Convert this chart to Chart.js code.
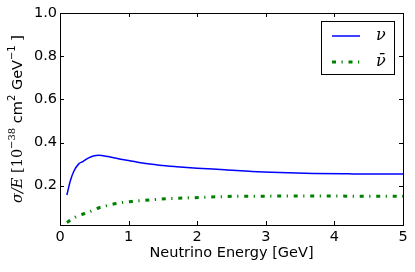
<!DOCTYPE html>
<html>
<head>
<meta charset="utf-8">
<script src="https://cdn.jsdelivr.net/npm/chart.js@4/dist/chart.umd.min.js"></script>
<style>
  html, body { margin: 0; padding: 0; background: #fff; }
  canvas { display: block; }
</style>
</head>
<body>
<canvas id="xsec" width="415" height="272"></canvas>
<script>
// neutrino cross section per energy

// ---- data ----
const nuEnergy = [0.1, 0.15, 0.2, 0.27, 0.34, 0.41, 0.5, 0.56, 0.7, 0.85, 1.0, 1.2, 1.45, 1.7, 2.0, 2.4, 2.8, 3.2, 3.7, 4.2, 4.6, 5.0];
const nuXsec = [0.157, 0.222, 0.266, 0.300, 0.313, 0.328, 0.339, 0.341, 0.335, 0.325, 0.317, 0.305, 0.295, 0.288, 0.281, 0.274, 0.266, 0.261, 0.257, 0.255, 0.254, 0.254];

const nubarEnergy = [0.1, 0.23, 0.34, 0.46, 0.57, 0.7, 0.82, 1.07, 1.31, 1.55, 1.81, 2.07, 2.32, 2.57, 2.82, 3.2, 3.6, 4.0, 4.5, 5.0];
const nubarXsec = [0.030, 0.056, 0.069, 0.083, 0.098, 0.109, 0.118, 0.128, 0.134, 0.140, 0.143, 0.146, 0.149, 0.151, 0.151, 0.152, 0.152, 0.152, 0.151, 0.151];

const xTicks = [0, 1, 2, 3, 4, 5];
const yTicks = [0.2, 0.4, 0.6, 0.8, 1.0];
const seriesLabels = ['ν', 'ν̄'];

const BLUE = '#0000ff';
const GREEN = '#008000';
const DASHDOT = [4, 5.5, 1.2, 5.8];
const FONT = 'DejaVu Sans';
const FSIZE = 14.5;

function toPoints(xs, ys) {
  return xs.map((x, i) => ({ x: x, y: ys[i] }));
}

// ---- plugin: box, inward ticks, y title, legend ----
const frameDecor = {
  id: 'frameDecor',
  afterDraw(chart) {
    const ctx = chart.ctx;
    const area = chart.chartArea;
    const xs = chart.scales.x;
    const ys = chart.scales.y;
    const tl = 4;

    ctx.save();
    ctx.strokeStyle = '#000';
    ctx.lineWidth = 1;
    ctx.beginPath();
    xTicks.forEach(v => {
      const px = Math.round(xs.getPixelForValue(v)) + 0.5;
      ctx.moveTo(px, area.bottom); ctx.lineTo(px, area.bottom - tl);
      ctx.moveTo(px, area.top); ctx.lineTo(px, area.top + tl);
    });
    yTicks.forEach(v => {
      const py = Math.round(ys.getPixelForValue(v)) + 0.5;
      ctx.moveTo(area.left, py); ctx.lineTo(area.left + tl, py);
      ctx.moveTo(area.right, py); ctx.lineTo(area.right - tl, py);
    });
    ctx.stroke();
    ctx.strokeRect(Math.round(area.left) + 0.5, Math.round(area.top) + 0.5,
      Math.round(area.right - area.left), Math.round(area.bottom - area.top));

    // y title, mixed math / roman pieces
    const big = FSIZE, small = 10;
    const parts = [
      { t: 'σ/E', f: 'italic ' + big + 'px "DejaVu Serif"', dy: 0 },
      { t: ' [10', f: big + 'px "DejaVu Serif"', dy: 0 },
      { t: '−38', f: small + 'px "DejaVu Serif"', dy: -6 },
      { t: ' cm', f: big + 'px "' + FONT + '"', dy: 0 },
      { t: '2', f: small + 'px "' + FONT + '"', dy: -6 },
      { t: ' GeV', f: big + 'px "' + FONT + '"', dy: 0 },
      { t: '−1', f: small + 'px "' + FONT + '"', dy: -6 },
      { t: ' ]', f: big + 'px "DejaVu Serif"', dy: 0 }
    ];
    let total = 0;
    parts.forEach(p => { ctx.font = p.f; p.w = ctx.measureText(p.t).width; total += p.w; });
    ctx.translate(18, (area.top + area.bottom) / 2);
    ctx.rotate(-Math.PI / 2);
    ctx.fillStyle = '#000';
    ctx.textBaseline = 'middle';
    ctx.textAlign = 'left';
    let cx = -total / 2;
    parts.forEach(p => {
      ctx.font = p.f;
      ctx.fillText(p.t, cx, p.dy);
      cx += p.w;
    });
    ctx.restore();

    // legend box inside upper right
    ctx.save();
    const bx = 321.5, by = 21.5, bw = 73, bh = 53;
    ctx.fillStyle = '#fff';
    ctx.fillRect(bx, by, bw, bh);
    ctx.strokeStyle = '#000';
    ctx.lineWidth = 1;
    ctx.strokeRect(bx, by, bw, bh);
    const rows = [
      { y: 36, ds: chart.data.datasets[0] },
      { y: 62, ds: chart.data.datasets[1] }
    ];
    rows.forEach(r => {
      ctx.beginPath();
      ctx.strokeStyle = r.ds.borderColor;
      ctx.lineWidth = r.ds.borderWidth;
      ctx.setLineDash(r.ds.borderDash || []);
      ctx.moveTo(332, r.y);
      ctx.lineTo(360, r.y);
      ctx.stroke();
      ctx.setLineDash([]);
      ctx.fillStyle = '#000';
      ctx.font = 'italic 16px "DejaVu Serif"';
      ctx.textBaseline = 'middle';
      ctx.textAlign = 'left';
      ctx.fillText(r.ds.label, 376, r.y);
    });
    ctx.restore();
  }
};

new Chart(document.getElementById('xsec'), {
  type: 'line',
  data: {
    datasets: [
      {
        label: seriesLabels[0],
        data: toPoints(nuEnergy, nuXsec),
        borderColor: BLUE,
        borderWidth: 1.5,
        pointRadius: 0,
        cubicInterpolationMode: 'monotone',
        fill: false
      },
      {
        label: seriesLabels[1],
        data: toPoints(nubarEnergy, nubarXsec),
        borderColor: GREEN,
        borderWidth: 3,
        borderDash: DASHDOT,
        pointRadius: 0,
        cubicInterpolationMode: 'monotone',
        fill: false
      }
    ]
  },
  options: {
    responsive: false,
    animation: false,
    devicePixelRatio: 1,
    layout: { padding: { top: 13, right: 12, left: 0, bottom: 0 } },
    plugins: {
      legend: { display: false },
      tooltip: { enabled: false }
    },
    scales: {
      x: {
        type: 'linear',
        min: 0,
        max: 5,
        afterBuildTicks: s => { s.ticks = xTicks.map(v => ({ value: v })); },
        afterFit: s => { s.height = 47; },
        grid: { display: false, drawTicks: false },
        border: { display: false },
        ticks: {
          color: '#000',
          font: { family: FONT, size: FSIZE },
          padding: 4,
          maxRotation: 0,
          callback: v => String(v)
        },
        title: {
          display: true,
          text: 'Neutrino Energy [GeV]',
          color: '#000',
          font: { family: FONT, size: FSIZE },
          padding: { top: 0, bottom: 10 }
        }
      },
      y: {
        type: 'linear',
        min: 0.018,
        max: 1.0,
        afterBuildTicks: s => { s.ticks = yTicks.map(v => ({ value: v })); },
        afterFit: s => { s.width = 60; },
        grid: { display: false, drawTicks: false },
        border: { display: false },
        ticks: {
          color: '#000',
          font: { family: FONT, size: FSIZE },
          padding: 3,
          callback: v => v.toFixed(1)
        }
      }
    }
  },
  plugins: [frameDecor]
});
</script>
</body>
</html>
